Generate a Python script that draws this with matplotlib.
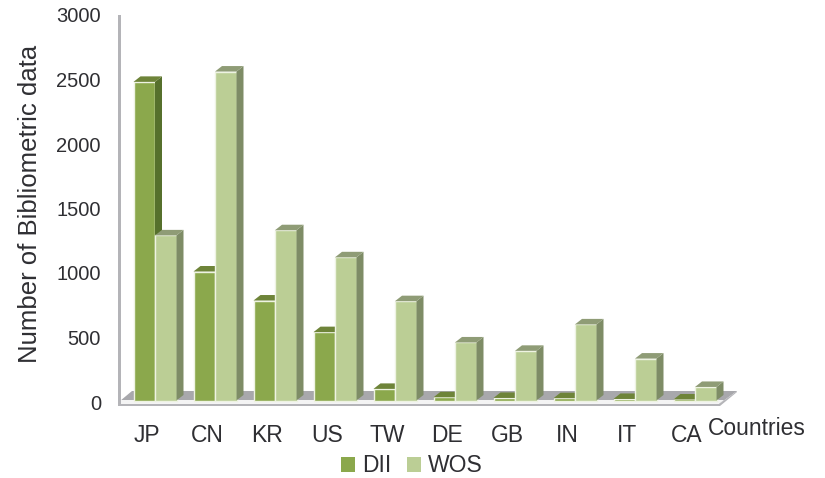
import matplotlib
matplotlib.use("Agg")
import matplotlib.pyplot as plt
from matplotlib.patches import Polygon, Patch
from matplotlib.transforms import Affine2D

countries = ["JP", "CN", "KR", "US", "TW", "DE", "GB", "IN", "IT", "CA"]
dii = [2470, 1000, 775, 530, 90, 25, 20, 18, 12, 8]
wos = [1280, 2550, 1320, 1110, 770, 450, 385, 590, 325, 105]
y_ticks = [0, 500, 1000, 1500, 2000, 2500, 3000]

plt.rcParams["font.family"] = ["Liberation Sans", "DejaVu Sans"]
W, H = 825, 478
TEXT = "#2F2F33"
fig = plt.figure(figsize=(W / 100, H / 100), dpi=100)
L, R, T, B = 119, 737, 15, 402
ax = fig.add_axes([L / W, 1 - B / H, (R - L) / W, (B - T) / H])
GROUP = 60.0
x0 = 155
ax.set_xlim((L - x0) / GROUP, (R - x0) / GROUP)
ax.set_ylim(0, 3000)
for s in ax.spines.values():
    s.set_visible(False)
ax.patch.set_alpha(0)

def px(pts):
    return [(x, H - y) for x, y in pts]
ident = Affine2D()
# floor of the 3-D box
fig.add_artist(Polygon(px([(120, 401), (132, 391), (737, 391), (719, 404), (120, 404)]),
                       closed=True, fc="#A8A8AC", ec="none", transform=ident, zorder=0))
fig.add_artist(Polygon(px([(120, 400), (120, 404), (719, 404), (724, 400)]),
                       closed=True, fc="#F4F4F4", ec="none", transform=ident, zorder=0))
fig.add_artist(Polygon(px([(118, 404), (719, 404), (737, 391), (737, 392), (720, 406), (118, 406)]),
                       closed=True, fc="#B4B4B8", ec="none", transform=ident, zorder=0))
fig.add_artist(Polygon(px([(118, 15), (120.5, 15), (120.5, 406), (118, 406)]),
                       closed=True, fc="#B4B4B8", ec="none", transform=ident, zorder=0))

BW = 21.5 / GROUP
DX = 7 / GROUP
DY = 5.5 * 3000 / (B - T)
lift = Affine2D().translate(0, 1.5)
tr = ax.transData + lift

def bar3d(xc, v, front, side, top, z):
    xl, xr = xc, xc + BW
    ax.bar(xl, v, BW, align="edge", color=front, edgecolor="#EEF3E2", linewidth=1.0,
           transform=tr, zorder=z, clip_on=False)
    ax.fill([xr, xr + DX, xr + DX, xr], [0, DY, v + DY, v], color=side, lw=0,
            transform=tr, zorder=z, clip_on=False)
    ax.fill([xl, xl + DX, xr + DX, xr], [v, v + DY, v + DY, v], color=top, lw=0,
            transform=tr, zorder=z, clip_on=False)

for i in range(len(countries)):
    bar3d(i - BW, dii[i], "#8BA84C", "#56702C", "#6E8439", 3 + i)
    bar3d(i, wos[i], "#BBCE95", "#7E8C66", "#8F9C76", 3.5 + i)

ax.set_yticks(y_ticks)
ax.set_yticklabels([str(t) for t in y_ticks], fontsize=14.5, color=TEXT)
ax.tick_params(axis="y", length=0, pad=13)
ax.set_xticks([i - 8 / GROUP for i in range(len(countries))])
ax.set_xticklabels(countries, fontsize=16.5, color=TEXT)
ax.tick_params(axis="x", length=0, pad=16)
ax.set_ylabel("")
fig.text(30 / W, 1 - 204 / H, "Number of Bibliometric data", rotation=90,
         ha="center", va="center", fontsize=18.5, color=TEXT)
fig.text(757 / W, 1 - 428.5 / H, "Countries", ha="center", va="center",
         fontsize=16.5, color=TEXT)
fig.legend(handles=[Patch(fc="#8BA84C", label="DII"), Patch(fc="#BBCE95", label="WOS")],
           loc="center", bbox_to_anchor=(412 / W, 1 - 466 / H), ncol=2, frameon=False,
           fontsize=16.5, handlelength=0.6, handleheight=0.6, handletextpad=0.3,
           columnspacing=0.7, labelcolor=TEXT)
fig.savefig("out.png", dpi=100)
